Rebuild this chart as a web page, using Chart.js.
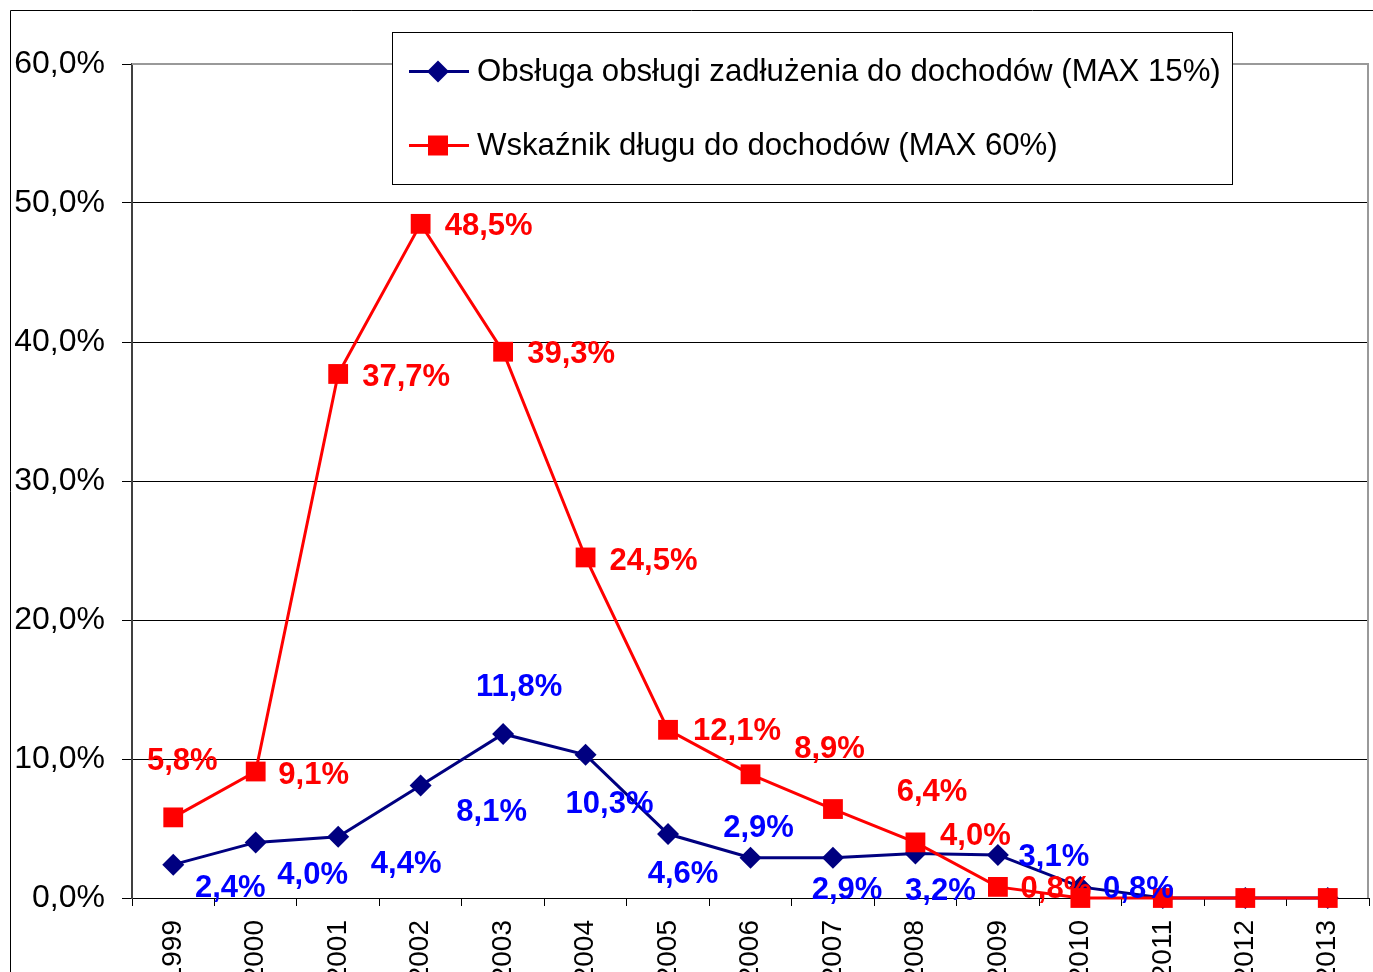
<!DOCTYPE html>
<html><head><meta charset="utf-8">
<script src="https://cdn.jsdelivr.net/npm/chart.js@4/dist/chart.umd.min.js"></script>
<style>html,body{margin:0;padding:0;background:#fff;}#wrap{position:relative;width:1373px;height:972px;}</style>
</head><body><div id="wrap"><canvas id="c" width="1373" height="972"></canvas></div>
<script>
const years = ['1999','2000','2001','2002','2003','2004','2005','2006','2007','2008','2009','2010','2011','2012','2013'];
const debtServiceRatio = [2.4,4.0,4.4,8.1,11.8,10.3,4.6,2.9,2.9,3.2,3.1,0.8,0,0,0];
const debtRatio = [5.8,9.1,37.7,48.5,39.3,24.5,12.1,8.9,6.4,4.0,0.8,0,0,0,0];
const yTickValues = [0,10,20,30,40,50,60];
const seriesNames = ['Obsługa obsługi zadłużenia do dochodów (MAX 15%)','Wskaźnik długu do dochodów (MAX 60%)'];
// label placement relative to each point (dx, dy)
const blueLabelOffsets = [[57,22],[57,31],[68,26],[71,25],[16,-49],[24,48],[15,38],[8,-31],[14,31],[25,36],[56,1],[58,1],[0,0],[0,0],[0,0]];
const redLabelOffsets = [[9,-58],[58,2],[68,1],[68,1],[68,1],[68,2],[69,0],[79,-27],[99,-19],[60,-8],[58,1],[0,0],[0,0],[0,0],[0,0]];

const FONT = "'Liberation Sans', Arial, sans-serif";
const fmt = v => v.toFixed(1).replace('.', ',') + '%';

const framePlugin = {
  id: 'frame',
  beforeDraw(chart) {
    const ctx = chart.ctx;
    ctx.save();
    ctx.fillStyle = '#fff';
    ctx.fillRect(0, 0, chart.width, chart.height);
    ctx.strokeStyle = '#000';
    ctx.lineWidth = 1;
    ctx.beginPath();
    ctx.moveTo(10.5, chart.height);
    ctx.lineTo(10.5, 10.5);
    ctx.lineTo(chart.width, 10.5);
    ctx.stroke();
    ctx.restore();
  },
  beforeDatasetsDraw(chart) {
    const {ctx, chartArea: a} = chart;
    ctx.save();
    ctx.strokeStyle = '#999';
    ctx.lineWidth = 2;
    ctx.beginPath();
    ctx.moveTo(a.left, a.top);
    ctx.lineTo(a.right - 1, a.top);
    ctx.lineTo(a.right - 1, a.bottom);
    ctx.stroke();
    ctx.restore();
  }
};

const labelPlugin = {
  id: 'vlabels',
  afterDatasetsDraw(chart) {
    const ctx = chart.ctx;
    ctx.save();
    ctx.font = 'bold 31px ' + FONT;
    ctx.textAlign = 'center';
    ctx.textBaseline = 'middle';
    chart.data.datasets.forEach((ds, i) => {
      const meta = chart.getDatasetMeta(i);
      ctx.fillStyle = ds.labelColor;
      meta.data.forEach((pt, j) => {
        const v = ds.data[j];
        if (!(v > 0)) return;
        const off = ds.labelOffsets[j];
        ctx.fillText(fmt(v), pt.x + off[0], pt.y + off[1] + 2);
      });
    });
    ctx.restore();
  }
};

const legendPlugin = {
  id: 'boxLegend',
  afterDraw(chart) {
    const ctx = chart.ctx;
    ctx.save();
    ctx.fillStyle = '#fff';
    ctx.fillRect(392, 32, 840, 152);
    ctx.strokeStyle = '#000';
    ctx.lineWidth = 1;
    ctx.strokeRect(392.5, 32.5, 840, 152);
    const items = [chart.data.datasets[1], chart.data.datasets[0]];
    const rows = [71.5, 145.5];
    items.forEach((ds, k) => {
      const y = rows[k];
      ctx.strokeStyle = ds.borderColor;
      ctx.lineWidth = 3;
      ctx.beginPath();
      ctx.moveTo(409, y); ctx.lineTo(469, y);
      ctx.stroke();
      ctx.fillStyle = ds.pointBackgroundColor;
      ctx.beginPath();
      if (ds.pointStyle === 'rectRot') {
        const r = 11;
        ctx.moveTo(438, y - r); ctx.lineTo(438 + r, y); ctx.lineTo(438, y + r); ctx.lineTo(438 - r, y);
        ctx.closePath();
      } else {
        ctx.rect(428, y - 10, 20, 20);
      }
      ctx.fill();
      ctx.fillStyle = '#000';
      ctx.font = '31.2px ' + FONT;
      ctx.textAlign = 'left';
      ctx.textBaseline = 'middle';
      ctx.fillText(ds.label, 477, y + 1);
    });
    ctx.restore();
  }
};

new Chart(document.getElementById('c'), {
  type: 'line',
  data: {
    labels: years,
    datasets: [
      {
        label: seriesNames[1],
        data: debtRatio,
        borderColor: '#ff0000',
        backgroundColor: '#ff0000',
        pointBackgroundColor: '#ff0000',
        pointBorderColor: '#ff0000',
        pointStyle: 'rect',
        pointRadius: 14,
        pointBorderWidth: 0,
        borderWidth: 3,
        tension: 0,
        clip: false,
        order: 0,
        labelColor: '#ff0000',
        labelOffsets: redLabelOffsets
      },
      {
        label: seriesNames[0],
        data: debtServiceRatio,
        borderColor: '#000080',
        backgroundColor: '#000080',
        pointBackgroundColor: '#000080',
        pointBorderColor: '#000080',
        pointStyle: 'rectRot',
        pointRadius: 11,
        pointBorderWidth: 0,
        borderWidth: 3,
        tension: 0,
        clip: false,
        order: 1,
        labelColor: '#0000ff',
        labelOffsets: blueLabelOffsets
      }
    ]
  },
  options: {
    responsive: false,
    animation: false,
    devicePixelRatio: 1,
    layout: {autoPadding: false, padding: {top: 64, right: 4, left: 0, bottom: 0}},
    plugins: {legend: {display: false}, tooltip: {enabled: false}},
    scales: {
      x: {
        type: 'category',
        offset: true,
        grid: {offset: true, drawOnChartArea: false, drawTicks: true, tickLength: 8, tickColor: '#000'},
        border: {color: '#000', width: 1},
        ticks: {minRotation: 90, maxRotation: 90, autoSkip: false, padding: 14, color: '#000', font: {family: FONT, size: 28}},
        afterFit(s) { s.height = 74; s.paddingLeft = 0; s.paddingRight = 0; }
      },
      y: {
        min: 0, max: 60,
        afterBuildTicks(s) { s.ticks = yTickValues.map(v => ({value: v})); },
        ticks: {color: '#000', padding: 17, font: {family: FONT, size: 32}, callback: v => fmt(v)},
        grid: {color: c => (c.tick && c.tick.value === 60) ? 'rgba(0,0,0,0)' : '#000', lineWidth: 1, tickLength: 10, tickColor: '#000'},
        border: {color: '#404040', width: 2},
        afterFit(s) { s.width = 132; s.paddingTop = 0; s.paddingBottom = 0; }
      }
    }
  },
  plugins: [framePlugin, labelPlugin, legendPlugin]
});
</script></body></html>
